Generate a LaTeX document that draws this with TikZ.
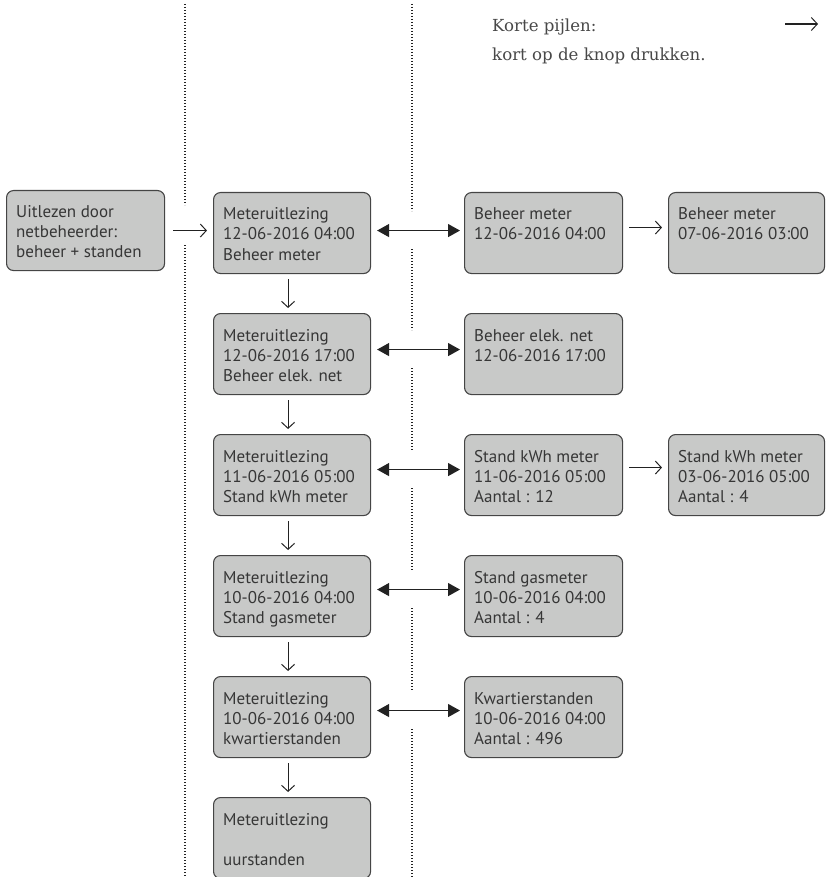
\documentclass[tikz,border=0pt]{standalone}
\usepackage{fontspec}
\usetikzlibrary{arrows.meta}
\newfontfamily\boxfont{PT Sans}
\newfontfamily\legfont{DejaVu Serif}
\definecolor{boxfill}{HTML}{C8C9C8}
\definecolor{boxline}{HTML}{454545}
\definecolor{txtcol}{HTML}{363636}
\definecolor{legcol}{HTML}{484848}
\definecolor{linecol}{HTML}{222222}
\tikzset{
  mbox/.style={draw=boxline, fill=boxfill, rounded corners=7pt, line width=1.1pt,
    minimum height=81pt, anchor=north west, inner sep=0pt},
  mtext/.style={anchor=base west, inner sep=0pt, text=txtcol,
    font=\boxfont\fontsize{17}{20}\selectfont},
  sarrow/.style={draw=linecol, line width=1.1pt, -{Straight Barb[length=6pt,width=13pt,line width=1pt]}},
  barrow/.style={draw=linecol, line width=1.2pt,
    {Triangle[length=12pt,width=13pt]}-{Triangle[length=12pt,width=13pt]}},
  dotline/.style={draw=linecol, line width=1.2pt, dash pattern=on 1.1pt off 1.9pt},
  legtext/.style={anchor=base west, inner sep=0pt, text=legcol,
    font=\legfont\fontsize{16.6}{20}\selectfont},
}
\newcommand\mbx[6]{% name, x, y, width, height, text
  \node[mbox, minimum width=#4pt, minimum height=#5pt] (#1) at (#2,#3) {};
  \node[mtext] (#1t) at ([xshift=10pt,yshift=-28pt]#1.north west)
    {\parbox[t]{150pt}{\fontsize{17}{20}\selectfont #6}};
}
\begin{document}
\begin{tikzpicture}[x=1pt,y=-1pt]
\useasboundingbox (0,0) rectangle (829,877);

% dotted separators
\draw[dotline] (185,4) -- (185,205);
\draw[dotline] (185,245) -- (185,877);
\draw[dotline] (412,4) -- (412,211);
\draw[dotline] (412,249) -- (412,330);
\draw[dotline] (412,368) -- (412,450);
\draw[dotline] (412,488) -- (412,570);
\draw[dotline] (412,608) -- (412,691);
\draw[dotline] (412,729) -- (412,877);

% legend
\node[legtext] (leg1) at (492,32) {Korte pijlen:};
\node[legtext] (leg2) at (492,61) {kort op de knop drukken.};
\coordinate (la) at (785,24);
\coordinate (lb) at (818,24);
\draw[sarrow] (la) -- (lb);

% boxes
\mbx{L}{6}{190}{158}{80}{Uitlezen door\\netbeheerder:\\beheer + standen}
\mbx{a1}{213}{192}{157}{81}{Meteruitlezing\\12-06-2016 04:00\\Beheer meter}
\mbx{a2}{213}{313}{157}{81}{Meteruitlezing\\12-06-2016 17:00\\Beheer elek. net}
\mbx{a3}{213}{434}{157}{81}{Meteruitlezing\\11-06-2016 05:00\\Stand kWh meter}
\mbx{a4}{213}{555}{157}{81}{Meteruitlezing\\10-06-2016 04:00\\Stand gasmeter}
\mbx{a5}{213}{676}{157}{81}{Meteruitlezing\\10-06-2016 04:00\\kwartierstanden}
\mbx{a6}{213}{797}{157}{81}{Meteruitlezing\\\mbox{}\\uurstanden}

\mbx{b1}{464}{192}{158}{81}{Beheer meter\\12-06-2016 04:00}
\mbx{b2}{464}{313}{158}{81}{Beheer elek. net\\12-06-2016 17:00}
\mbx{b3}{464}{434}{158}{81}{Stand kWh meter\\11-06-2016 05:00\\Aantal : 12}
\mbx{b4}{464}{555}{158}{81}{Stand gasmeter\\10-06-2016 04:00\\Aantal : 4}
\mbx{b5}{464}{676}{158}{81}{Kwartierstanden\\10-06-2016 04:00\\Aantal : 496}

\mbx{c1}{668}{192}{156}{81}{Beheer meter\\07-06-2016 03:00}
\mbx{c3}{668}{434}{156}{81}{Stand kWh meter\\03-06-2016 05:00\\Aantal : 4}

% connectors
\draw[sarrow, shorten <=8pt, shorten >=6pt] (L.east) -- (L.east -| a1.west);

\foreach \u/\v in {a1/a2,a2/a3,a3/a4,a4/a5,a5/a6}
  \draw[sarrow, shorten <=5pt, shorten >=5pt] ([xshift=-4pt]\u.south) -- ([xshift=-4pt]\v.north);

\draw[barrow, shorten <=6pt, shorten >=4pt] ([yshift=2.5pt]a1.east) -- ([yshift=2.5pt]b1.west);
\draw[barrow, shorten <=6pt, shorten >=4pt] ([yshift=4.5pt]a2.east) -- ([yshift=4.5pt]b2.west);
\draw[barrow, shorten <=6pt, shorten >=4pt] ([yshift=5.5pt]a3.east) -- ([yshift=5.5pt]b3.west);
\draw[barrow, shorten <=6pt, shorten >=4pt] ([yshift=6.5pt]a4.east) -- ([yshift=6.5pt]b4.west);
\draw[barrow, shorten <=6pt, shorten >=4pt] ([yshift=6.5pt]a5.east) -- ([yshift=6.5pt]b5.west);

\draw[sarrow, shorten <=6pt, shorten >=6pt] ([yshift=5.5pt]b1.east) -- ([yshift=5.5pt]c1.west);
\draw[sarrow, shorten <=6pt, shorten >=6pt] ([yshift=7.5pt]b3.east) -- ([yshift=7.5pt]c3.west);
\end{tikzpicture}
\end{document}
